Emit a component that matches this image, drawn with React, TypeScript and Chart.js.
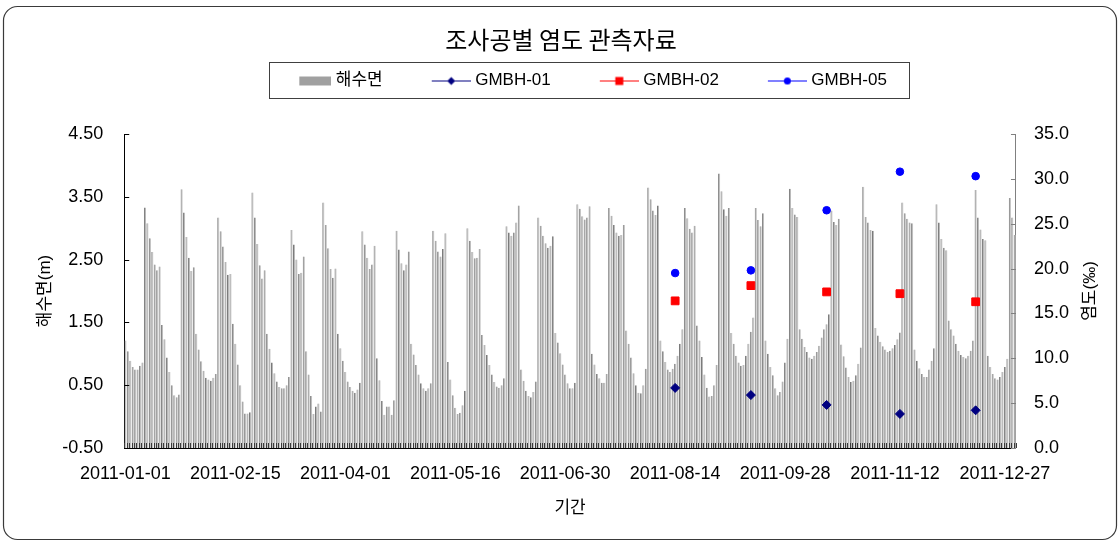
import React, { useEffect, useRef } from 'react';
import { Chart, registerables } from 'chart.js';

Chart.register(...registerables);

const FONT = "'Liberation Sans', 'Noto Sans CJK KR', sans-serif";
const TITLE_FONT = "'Noto Sans CJK KR', 'Liberation Sans', sans-serif";

const chartTitle = '조사공별 염도 관측자료';
const xAxisTitle = '기간';
const leftAxisTitle = '해수면(m)';
const rightAxisTitle = '염도(‰)';

const startDate = '2011-01-01';
const tickLabels = ['2011-01-01', '2011-02-15', '2011-04-01', '2011-05-16', '2011-06-30', '2011-08-14', '2011-09-28', '2011-11-12', '2011-12-27'];

// Daily sea level (m), 2011
const seaJan = [1.21, 1.04, 0.89, 0.79, 0.75, 0.75, 0.81, 0.86, 3.33, 3.08, 2.84, 2.62, 2.42, 2.33, 2.39, 1.46, 1.23, 0.94, 0.71, 0.50, 0.34, 0.31, 0.35, 3.62, 3.25, 2.86, 2.53, 2.32, 2.38, 1.32, 1.07];
const seaFeb = [0.88, 0.73, 0.62, 0.59, 0.57, 0.62, 0.68, 3.17, 2.95, 2.71, 2.46, 2.26, 2.27, 1.48, 1.16, 0.83, 0.50, 0.24, 0.05, 0.05, 0.07, 3.57, 3.17, 2.75, 2.41, 2.20, 2.33, 1.32];
const seaMar = [1.08, 0.86, 0.69, 0.56, 0.47, 0.45, 0.45, 0.50, 0.63, 2.97, 2.74, 2.50, 2.27, 2.29, 2.55, 1.04, 0.67, 0.33, 0.04, 0.16, 0.21, 0.08, 3.41, 3.05, 2.68, 2.35, 2.21, 2.36, 1.32, 1.09, 0.89];
const seaApr = [0.71, 0.56, 0.47, 0.41, 0.38, 0.43, 0.54, 2.95, 2.74, 2.53, 2.35, 2.42, 2.72, 0.93, 0.58, 0.25, 0.03, 0.16, 0.16, 0.03, 0.26, 2.96, 2.66, 2.44, 2.33, 2.42, 2.63, 1.16, 0.99, 0.82];
const seaMay = [0.67, 0.53, 0.45, 0.41, 0.45, 0.53, 2.96, 2.80, 2.63, 2.55, 2.67, 2.92, 0.87, 0.59, 0.34, 0.14, 0.04, 0.06, 0.18, 0.41, 3.00, 2.80, 2.62, 2.52, 2.53, 2.67, 1.30, 1.14, 0.98, 0.82, 0.67];
const seaJun = [0.55, 0.48, 0.46, 0.50, 0.61, 3.03, 2.93, 2.88, 2.93, 3.09, 3.36, 0.75, 0.57, 0.41, 0.33, 0.31, 0.39, 0.56, 3.17, 3.04, 2.88, 2.76, 2.69, 2.72, 2.87, 1.33, 1.18, 1.01, 0.83, 0.67];
const seaJul = [0.53, 0.45, 0.45, 0.54, 3.38, 3.31, 3.19, 3.14, 3.17, 3.35, 1.00, 0.83, 0.68, 0.61, 0.54, 0.54, 0.68, 3.32, 3.20, 3.05, 2.93, 2.88, 2.89, 3.05, 1.37, 1.16, 0.94, 0.69, 0.50, 0.38, 0.37];
const seaAug = [0.50, 0.76, 3.65, 3.46, 3.28, 3.21, 3.36, 1.21, 1.04, 0.87, 0.75, 0.71, 0.76, 0.84, 0.97, 1.16, 1.39, 3.32, 3.16, 2.99, 2.93, 3.04, 1.45, 1.21, 0.95, 0.67, 0.46, 0.32, 0.33, 0.50, 0.82];
const seaSep = [3.87, 3.59, 3.30, 3.20, 3.32, 1.33, 1.16, 0.97, 0.86, 0.81, 0.82, 0.97, 1.16, 1.35, 1.58, 3.32, 3.13, 3.03, 3.24, 1.21, 1.00, 0.79, 0.66, 0.45, 0.34, 0.39, 0.56, 0.86, 1.24, 3.63];
const seaOct = [3.32, 3.22, 3.18, 1.39, 1.24, 1.11, 1.03, 0.94, 0.92, 0.97, 1.03, 1.13, 1.26, 1.39, 1.47, 1.63, 3.28, 3.10, 3.05, 3.15, 1.15, 0.96, 0.78, 0.63, 0.55, 0.57, 0.66, 0.84, 1.10, 3.66, 3.18];
const seaNov = [3.09, 2.97, 2.96, 1.41, 1.29, 1.19, 1.12, 1.07, 1.03, 1.05, 1.09, 1.14, 1.23, 1.34, 3.41, 3.24, 3.15, 3.09, 3.08, 1.07, 0.89, 0.77, 0.68, 0.63, 0.63, 0.75, 0.89, 1.09, 3.38, 3.09];
const seaDec = [2.83, 2.69, 2.65, 1.53, 1.39, 1.29, 1.16, 1.05, 0.98, 0.95, 0.93, 0.97, 1.05, 1.21, 3.61, 3.17, 2.98, 2.83, 2.81, 0.97, 0.79, 0.68, 0.61, 0.59, 0.63, 0.71, 0.79, 0.92, 3.48, 3.17, 2.89];

// Salinity observations (‰)
const salinityDates = ['2011-08-14', '2011-09-14', '2011-10-15', '2011-11-14', '2011-12-15'];
const gmbh01 = [6.7, 5.9, 4.8, 3.8, 4.2];
const gmbh02 = [16.4, 18.1, 17.4, 17.2, 16.3];
const gmbh05 = [19.5, 19.8, 26.5, 30.8, 30.3];

const seaLevel = [...seaJan, ...seaFeb, ...seaMar, ...seaApr, ...seaMay, ...seaJun, ...seaJul, ...seaAug, ...seaSep, ...seaOct, ...seaNov, ...seaDec];

function buildDays(count: number): string[] {
  const out: string[] = [];
  const t0 = Date.parse(startDate + 'T00:00:00Z');
  for (let i = 0; i < count; i++) {
    out.push(new Date(t0 + i * 86400000).toISOString().slice(0, 10));
  }
  return out;
}

const PW = 74; // legend marker box width
const CW = PW + 8;

function makeLineMarker(color: string, lineColor: string, shape: 'diamond' | 'square' | 'circle') {
  const c = document.createElement('canvas');
  c.width = CW;
  c.height = 16;
  const g = c.getContext('2d')!;
  const x0 = CW - 39;
  g.strokeStyle = lineColor;
  g.lineWidth = 1;
  g.beginPath();
  g.moveTo(x0, 8.5);
  g.lineTo(CW, 8.5);
  g.stroke();
  const cx = x0 + 19.5;
  const cy = 8.5;
  g.fillStyle = color;
  g.beginPath();
  if (shape === 'diamond') {
    g.moveTo(cx, cy - 4);
    g.lineTo(cx + 4, cy);
    g.lineTo(cx, cy + 4);
    g.lineTo(cx - 4, cy);
    g.closePath();
  } else if (shape === 'square') {
    g.rect(cx - 4, cy - 4, 8, 8);
  } else {
    g.arc(cx, cy, 3.5, 0, Math.PI * 2);
  }
  g.fill();
  return c;
}

function makeRectMarker(color: string) {
  const c = document.createElement('canvas');
  c.width = CW;
  c.height = 16;
  const g = c.getContext('2d')!;
  g.fillStyle = color;
  g.fillRect(CW - 32, 4, 32, 9);
  return c;
}

const decorPlugin = {
  id: 'decor',
  beforeDraw(chart: any) {
    const { ctx, width, height } = chart;
    ctx.save();
    ctx.fillStyle = '#ffffff';
    ctx.fillRect(0, 0, width, height);
    ctx.strokeStyle = '#3a3a3a';
    ctx.lineWidth = 1.2;
    ctx.beginPath();
    ctx.roundRect(3.5, 6.5, width - 7, height - 10, 14);
    ctx.stroke();
    ctx.restore();
  },
  afterDraw(chart: any) {
    const { ctx, chartArea, scales } = chart;
    ctx.save();
    // category tick marks (inside)
    const xs = scales.x;
    const n = xs.ticks.length;
    const step = (chartArea.right - chartArea.left) / n;
    ctx.strokeStyle = '#3a3a3a';
    ctx.lineWidth = 1;
    ctx.beginPath();
    for (let i = 0; i <= n; i++) {
      const px = Math.round(chartArea.left + i * step) + 0.5;
      ctx.moveTo(px, chartArea.bottom);
      ctx.lineTo(px, chartArea.bottom - 5);
    }
    ctx.stroke();
    // y ticks inward
    ctx.beginPath();
    for (const t of scales.y.ticks) {
      const py = Math.round(scales.y.getPixelForValue(t.value)) + 0.5;
      ctx.moveTo(chartArea.left, py);
      ctx.lineTo(chartArea.left + 5, py);
    }
    ctx.strokeStyle = '#000000';
    ctx.stroke();
    ctx.beginPath();
    for (const t of scales.y2.ticks) {
      const py = Math.round(scales.y2.getPixelForValue(t.value)) + 0.5;
      ctx.moveTo(chartArea.right, py);
      ctx.lineTo(chartArea.right - 5, py);
    }
    ctx.strokeStyle = '#808080';
    ctx.stroke();
    // legend frame
    const lg = chart.legend;
    const hb = lg && lg.legendHitBoxes;
    if (hb && hb.length) {
      const last = hb[hb.length - 1];
      const l = Math.round(hb[0].left + 16) + 0.5;
      const r = Math.round(last.left + last.width + 22) + 0.5;
      const t = Math.round(lg.top) + 0.5;
      const b = Math.round(lg.top + 36) + 0.5;
      ctx.strokeStyle = '#404040';
      ctx.lineWidth = 1;
      ctx.strokeRect(l, t, r - l, b - t);
    }
    // right axis title (reads bottom-to-top like the left one)
    ctx.translate(chartArea.right + 74, (chartArea.top + chartArea.bottom) / 2);
    ctx.rotate(-Math.PI / 2);
    ctx.fillStyle = '#000000';
    ctx.font = `17px ${FONT}`;
    ctx.textAlign = 'center';
    ctx.textBaseline = 'middle';
    ctx.fillText(rightAxisTitle, 0, 0);
    ctx.restore();
  },
};

export default function App() {
  const ref = useRef<HTMLCanvasElement | null>(null);

  useEffect(() => {
    if (!ref.current) return;
    const days = buildDays(seaLevel.length);
    const pick = (vals: number[]) => days.map((d) => {
      const k = salinityDates.indexOf(d);
      return k >= 0 ? vals[k] : null;
    });

    const legendMarkers = [
      makeRectMarker('#a0a0a0'),
      makeLineMarker('#000080', '#000080', 'diamond'),
      makeLineMarker('#ff0000', '#ff0000', 'square'),
      makeLineMarker('#0000ff', '#0000ff', 'circle'),
    ];
    const legendTexts = ['해수면', 'GMBH-01', 'GMBH-02', 'GMBH-05'];

    const chart = new Chart(ref.current, {
      type: 'bar',
      data: {
        labels: days,
        datasets: [
          {
            type: 'bar',
            label: '해수면',
            data: seaLevel,
            yAxisID: 'y',
            base: -0.5,
            backgroundColor: '#bababa',
            borderColor: '#7a7a7a',
            borderWidth: { left: 1, right: 0, top: 0, bottom: 0 },
            borderSkipped: false,
            barPercentage: 0.85,
            categoryPercentage: 1,
            order: 2,
          } as any,
          {
            type: 'line',
            label: 'GMBH-01',
            data: pick(gmbh01),
            yAxisID: 'y2',
            showLine: false,
            pointStyle: 'rectRot',
            pointRadius: 4.5,
            pointBackgroundColor: '#000080',
            pointBorderColor: '#000080',
            pointBorderWidth: 1,
            order: 1,
          } as any,
          {
            type: 'line',
            label: 'GMBH-02',
            data: pick(gmbh02),
            yAxisID: 'y2',
            showLine: false,
            pointStyle: 'rect',
            pointRadius: 5.5,
            pointBackgroundColor: '#ff0000',
            pointBorderColor: '#ff0000',
            pointBorderWidth: 1,
            order: 1,
          } as any,
          {
            type: 'line',
            label: 'GMBH-05',
            data: pick(gmbh05),
            yAxisID: 'y2',
            showLine: false,
            pointStyle: 'circle',
            pointRadius: 3.8,
            pointBackgroundColor: '#0000ff',
            pointBorderColor: '#0000ff',
            pointBorderWidth: 1,
            order: 1,
          } as any,
        ],
      },
      options: {
        responsive: false,
        animation: false,
        events: [],
        layout: { padding: { left: 35, right: 33, top: 0, bottom: 24.8 } },
        plugins: {
          tooltip: { enabled: false },
          title: {
            display: true,
            text: chartTitle,
            color: '#000000',
            font: { size: 24, family: TITLE_FONT, weight: 'normal' },
            padding: { top: 25.6, bottom: 7.6 },
          },
          subtitle: {
            display: true,
            text: ' ',
            weight: 500,
            font: { size: 10, family: FONT },
            padding: { top: 0, bottom: 23 },
          } as any,
          legend: {
            display: true,
            position: 'top',
            fullSize: false,
            labels: {
              usePointStyle: true,
              pointStyleWidth: PW,
              padding: 10,
              color: '#000000',
              font: { size: 17, family: FONT },
              generateLabels: () => legendTexts.map((text, i) => ({
                text,
                pointStyle: legendMarkers[i] as any,
                fillStyle: 'rgba(0,0,0,0)',
                strokeStyle: 'rgba(0,0,0,0)',
                lineWidth: 0,
                hidden: false,
                datasetIndex: i,
                fontColor: '#000000',
              })),
            },
          },
        },
        scales: {
          x: {
            type: 'category',
            offset: true,
            grid: { display: false, drawTicks: false },
            border: { display: true, color: '#000000', width: 1 },
            ticks: {
              autoSkip: false,
              maxRotation: 0,
              minRotation: 0,
              padding: 15,
              color: '#000000',
              font: { size: 18, family: FONT },
              callback: (_v: any, i: number) => (tickLabels.includes(days[i]) ? days[i] : ''),
            },
            title: {
              display: true,
              text: xAxisTitle,
              color: '#000000',
              font: { size: 17, family: FONT },
              padding: { top: -1.8, bottom: 0 },
            },
          },
          y: {
            type: 'linear',
            position: 'left',
            min: -0.5,
            max: 4.5,
            grid: { display: false, drawTicks: false },
            border: { display: true, color: '#000000', width: 1 },
            ticks: {
              stepSize: 1,
              padding: 21,
              color: '#000000',
              font: { size: 18, family: FONT },
              callback: (v: any) => Number(v).toFixed(2),
            },
            title: {
              display: true,
              text: leftAxisTitle,
              color: '#000000',
              font: { size: 17, family: FONT },
              padding: { top: 0, bottom: -14.2 },
            },
          },
          y2: {
            type: 'linear',
            position: 'right',
            min: 0,
            max: 35,
            grid: { display: false, drawTicks: false },
            border: { display: true, color: '#808080', width: 1 },
            ticks: {
              stepSize: 5,
              padding: 18,
              color: '#000000',
              font: { size: 18, family: FONT },
              callback: (v: any) => Number(v).toFixed(1),
            },
          },
        },
      } as any,
      plugins: [decorPlugin],
    });
    return () => chart.destroy();
  }, []);

  return (
    <div style={{ position: 'absolute', left: 0, top: 0, width: 1120, height: 543, background: '#ffffff' }}>
      <canvas ref={ref} width={1120} height={543} style={{ display: 'block' }} />
    </div>
  );
}
